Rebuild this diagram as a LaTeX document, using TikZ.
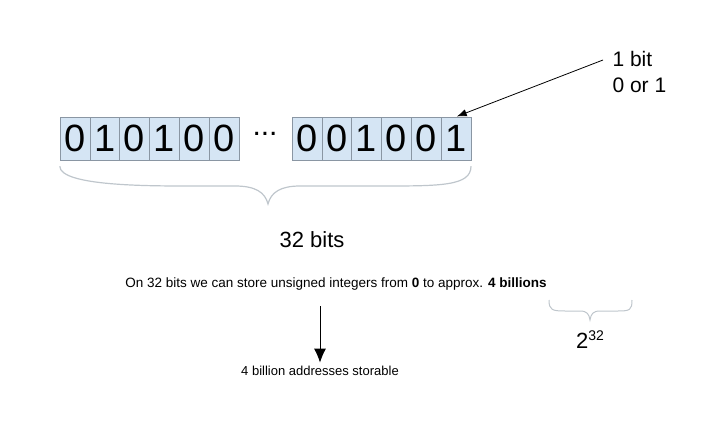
\documentclass[tikz,border=0pt]{standalone}
\usepackage{fontspec}
\setmainfont{Liberation Sans}
\usetikzlibrary{positioning,arrows.meta,calc}
\definecolor{cellblue}{HTML}{D5E5F4}
\definecolor{cellline}{HTML}{8A96A3}
\definecolor{bracegray}{HTML}{BFC6CC}
\tikzset{>={Latex[scale=1.5]}}
\tikzset{bitcell/.style={draw=cellline,fill=cellblue,minimum width=29.8pt,minimum height=43pt,inner sep=0pt,
  font=\fontsize{38}{40}\selectfont}}
\begin{document}
\begin{tikzpicture}[x=1pt,y=-1pt]
  \useasboundingbox (0,0) rectangle (720,425);
  % left group of bits
  \foreach \b [count=\i] in {0,1,0,1,0,0}
    \node[bitcell] (l\i) at ({60+14.9+(\i-1)*29.8},138.5) {\b};
  \node[font=\fontsize{30}{30}\selectfont] (dots) at (265,134) {...};
  % right group of bits
  \foreach \b [count=\i] in {0,0,1,0,0,1}
    \node[bitcell] (r\i) at ({292+14.9+(\i-1)*29.8},138.5) {\b};
  % big brace
  \draw[bracegray,line width=1.2pt] (l1.south west) ++(0,6)
     .. controls ++(0,20) and (150,186) .. (190,186) -- (235,186)
     .. controls (255,186) and (265,192) .. (268,204)
     .. controls (271,192) and (281,186) .. (300,186) -- (380,186)
     .. controls (440,186) and ($(r6.south east)+(0,26)$) .. ($(r6.south east)+(0,6)$);
  \node[font=\fontsize{22}{24}\selectfont] (total) at (312,240) {32 bits};
  % one bit annotation
  \node[font=\fontsize{21}{26}\selectfont,align=left,anchor=west] (onebit) at (609,72) {1 bit\\0 or 1};
  \coordinate (tail) at (603,60);
  \draw[->,line width=0.8pt,shorten >=1pt] (tail) -- (r6.north);
  % sentence
  \node[font=\fontsize{13.5}{16}\selectfont] (range) at (336,284)
    {On 32 bits we can store unsigned integers from \textbf{0} to approx. \textbf{4 billions}};
  \draw[bracegray,line width=1pt] (549,300) .. controls (549,310) and (552,311) .. (565,311) -- (580,311)
     .. controls (587,311) and (589,314) .. (590,320)
     .. controls (591,314) and (593,311) .. (600,311) -- (618,311)
     .. controls (630,311) and (632,310) .. (632,300);
  \node[font=\fontsize{22}{24}\selectfont] (pow) at (590,340) {2\raisebox{8pt}{\fontsize{14}{14}\selectfont 32}};
  \node[font=\fontsize{13}{16}\selectfont] (addr) at (320,371) {4 billion addresses storable};
  \coordinate (top) at (320,306);
  \draw[-{Latex[length=14pt,width=12pt]},line width=1pt] (top) -- (addr.north);
\end{tikzpicture}
\end{document}
